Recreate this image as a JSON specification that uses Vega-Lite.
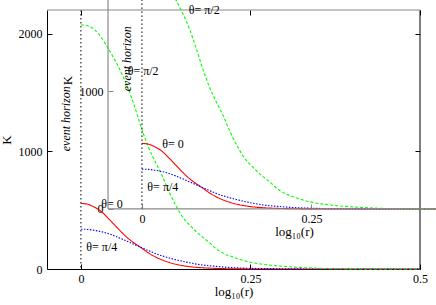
{
  "$schema": "https://vega.github.io/schema/vega-lite/v6.json",
  "width": 373,
  "height": 259,
  "autosize": {"type": "none"},
  "padding": {"left": 47, "top": 10, "right": 16, "bottom": 36},
  "config": {
    "view": {"stroke": null},
    "font": "Liberation Serif",
    "axis": {
      "labelFont": "Liberation Serif",
      "titleFont": "Liberation Serif",
      "labelFontSize": 12,
      "titleFontSize": 13,
      "titleFontWeight": "normal",
      "labelColor": "black",
      "titleColor": "black",
      "tickColor": "black",
      "domainColor": "black",
      "grid": false,
      "tickSize": -5,
      "labelFlush": false,
      "labelOverlap": false
    }
  },
  "datasets": {
    "curves": [
      {"series": "θ= 0", "logr": 0, "K": 557},
      {"series": "θ= 0", "logr": 0.01, "K": 550},
      {"series": "θ= 0", "logr": 0.02, "K": 525},
      {"series": "θ= 0", "logr": 0.03, "K": 488},
      {"series": "θ= 0", "logr": 0.04, "K": 432},
      {"series": "θ= 0", "logr": 0.05, "K": 372},
      {"series": "θ= 0", "logr": 0.06, "K": 312},
      {"series": "θ= 0", "logr": 0.07, "K": 258},
      {"series": "θ= 0", "logr": 0.08, "K": 215},
      {"series": "θ= 0", "logr": 0.09, "K": 176},
      {"series": "θ= 0", "logr": 0.1, "K": 135},
      {"series": "θ= 0", "logr": 0.11, "K": 102},
      {"series": "θ= 0", "logr": 0.12, "K": 76},
      {"series": "θ= 0", "logr": 0.13, "K": 56},
      {"series": "θ= 0", "logr": 0.14, "K": 40},
      {"series": "θ= 0", "logr": 0.15, "K": 29},
      {"series": "θ= 0", "logr": 0.16, "K": 20},
      {"series": "θ= 0", "logr": 0.18, "K": 10},
      {"series": "θ= 0", "logr": 0.2, "K": 5},
      {"series": "θ= 0", "logr": 0.22, "K": 2},
      {"series": "θ= 0", "logr": 0.25, "K": 0.5},
      {"series": "θ= 0", "logr": 0.3, "K": 0},
      {"series": "θ= 0", "logr": 0.5, "K": 0},
      {"series": "θ= π/4", "logr": 0, "K": 338},
      {"series": "θ= π/4", "logr": 0.01, "K": 336},
      {"series": "θ= π/4", "logr": 0.02, "K": 328},
      {"series": "θ= π/4", "logr": 0.03, "K": 317},
      {"series": "θ= π/4", "logr": 0.04, "K": 302},
      {"series": "θ= π/4", "logr": 0.05, "K": 280},
      {"series": "θ= π/4", "logr": 0.06, "K": 256},
      {"series": "θ= π/4", "logr": 0.07, "K": 231},
      {"series": "θ= π/4", "logr": 0.08, "K": 205},
      {"series": "θ= π/4", "logr": 0.09, "K": 180},
      {"series": "θ= π/4", "logr": 0.1, "K": 155},
      {"series": "θ= π/4", "logr": 0.11, "K": 131},
      {"series": "θ= π/4", "logr": 0.12, "K": 111},
      {"series": "θ= π/4", "logr": 0.13, "K": 94},
      {"series": "θ= π/4", "logr": 0.14, "K": 79},
      {"series": "θ= π/4", "logr": 0.16, "K": 53},
      {"series": "θ= π/4", "logr": 0.18, "K": 33},
      {"series": "θ= π/4", "logr": 0.2, "K": 22},
      {"series": "θ= π/4", "logr": 0.22, "K": 13},
      {"series": "θ= π/4", "logr": 0.25, "K": 6},
      {"series": "θ= π/4", "logr": 0.3, "K": 2},
      {"series": "θ= π/4", "logr": 0.35, "K": 0},
      {"series": "θ= π/4", "logr": 0.5, "K": 0},
      {"series": "θ= π/2", "logr": 0, "K": 2075},
      {"series": "θ= π/2", "logr": 0.01, "K": 2066},
      {"series": "θ= π/2", "logr": 0.02, "K": 2032},
      {"series": "θ= π/2", "logr": 0.03, "K": 1968},
      {"series": "θ= π/2", "logr": 0.04, "K": 1875},
      {"series": "θ= π/2", "logr": 0.05, "K": 1775},
      {"series": "θ= π/2", "logr": 0.06, "K": 1662},
      {"series": "θ= π/2", "logr": 0.07, "K": 1530},
      {"series": "θ= π/2", "logr": 0.08, "K": 1365},
      {"series": "θ= π/2", "logr": 0.09, "K": 1185},
      {"series": "θ= π/2", "logr": 0.1, "K": 1030},
      {"series": "θ= π/2", "logr": 0.11, "K": 905},
      {"series": "θ= π/2", "logr": 0.12, "K": 790},
      {"series": "θ= π/2", "logr": 0.13, "K": 655},
      {"series": "θ= π/2", "logr": 0.14, "K": 540},
      {"series": "θ= π/2", "logr": 0.15, "K": 442},
      {"series": "θ= π/2", "logr": 0.16, "K": 375},
      {"series": "θ= π/2", "logr": 0.17, "K": 318},
      {"series": "θ= π/2", "logr": 0.18, "K": 268},
      {"series": "θ= π/2", "logr": 0.19, "K": 222},
      {"series": "θ= π/2", "logr": 0.2, "K": 170},
      {"series": "θ= π/2", "logr": 0.21, "K": 133},
      {"series": "θ= π/2", "logr": 0.22, "K": 110},
      {"series": "θ= π/2", "logr": 0.25, "K": 58},
      {"series": "θ= π/2", "logr": 0.28, "K": 32},
      {"series": "θ= π/2", "logr": 0.3, "K": 22},
      {"series": "θ= π/2", "logr": 0.35, "K": 6},
      {"series": "θ= π/2", "logr": 0.4, "K": 1},
      {"series": "θ= π/2", "logr": 0.45, "K": 0},
      {"series": "θ= π/2", "logr": 0.5, "K": 0}
    ],
    "labels": [
      {"label": "θ= π/2", "logr": 0.069, "K": 1686},
      {"label": "θ= 0", "logr": 0.03, "K": 555},
      {"label": "θ= π/4", "logr": 0.008, "K": 190}
    ],
    "horizon": [
      {"label": "event horizon", "logr": 0, "labelLogr": -0.022, "labelK": 1000}
    ]
  },
  "resolve": {"scale": {"x": "independent", "y": "independent"}},
  "layer": [
    {
      "layer": [
        {
          "data": {"name": "curves"},
          "mark": {"type": "line", "strokeWidth": 1.1, "interpolate": "monotone"},
          "encoding": {
            "x": {"field": "logr", "type": "quantitative",
              "scale": {"domain": [-0.05, 0.5], "nice": false, "zero": false},
              "axis": {"orient": "bottom", "values": [0, 0.25, 0.5], "format": "~g", "labelPadding": 9, "title": "log₁₀(r)", "titlePadding": 1}},
            "y": {"field": "K", "type": "quantitative",
              "scale": {"domain": [0, 2200], "nice": false},
              "axis": {"orient": "left", "values": [0, 1000, 2000], "format": "d", "labelPadding": 10, "title": "K", "titlePadding": 5}},
            "color": {"field": "series", "type": "nominal",
              "scale": {"domain": ["θ= 0", "θ= π/4", "θ= π/2"], "range": ["#ff0000", "#0000ff", "#00ff00"]}, "legend": null},
            "strokeDash": {"field": "series", "type": "nominal",
              "scale": {"domain": ["θ= 0", "θ= π/4", "θ= π/2"], "range": [[1, 0], [1.5, 1.5], [3, 2]]}, "legend": null}
          }
        },
        {
          "data": {"name": "horizon"},
          "mark": {"type": "rule", "color": "black", "strokeWidth": 1, "strokeDash": [1.5, 2.5]},
          "encoding": {"x": {"field": "logr", "type": "quantitative"}}
        },
        {
          "data": {"name": "horizon"},
          "mark": {"type": "text", "angle": 270, "align": "left", "baseline": "middle", "font": "Liberation Serif", "fontStyle": "italic", "fontSize": 12, "color": "black"},
          "encoding": {
            "x": {"field": "labelLogr", "type": "quantitative"},
            "y": {"field": "labelK", "type": "quantitative"},
            "text": {"field": "label"}
          }
        },
        {
          "data": {"name": "labels"},
          "mark": {"type": "text", "align": "left", "baseline": "middle", "font": "Liberation Serif", "fontSize": 12, "color": "black"},
          "encoding": {
            "x": {"field": "logr", "type": "quantitative"},
            "y": {"field": "K", "type": "quantitative"},
            "text": {"field": "label"}
          }
        }
      ]
    },
    {
      "data": {"values": [{}]},
      "layer": [
        {
          "mark": {"type": "rule", "color": "black", "strokeWidth": 1},
          "encoding": {
            "x": {"datum": 0.5, "scale": {"domain": [-0.05, 0.5], "nice": false, "zero": false},
              "axis": {"orient": "top", "values": [0, 0.25, 0.5], "labels": false, "domain": false, "title": null}},
            "y": {"datum": 0, "scale": {"domain": [0, 2200], "nice": false},
              "axis": {"orient": "right", "values": [0, 1000, 2000], "labels": false, "domain": false, "title": null}},
            "y2": {"datum": 2200}
          }
        },
        {
          "mark": {"type": "rule", "color": "#888888", "strokeWidth": 1},
          "encoding": {
            "x": {"datum": -0.05},
            "x2": {"datum": 0.5},
            "y": {"datum": 2200}
          }
        }
      ]
    },
    {
      "layer": [
        {
          "data": {"name": "curves"},
          "mark": {"type": "line", "strokeWidth": 1.1, "interpolate": "monotone"},
          "encoding": {
            "x": {"field": "logr", "type": "quantitative",
              "scale": {"domain": [-0.14, 0.41], "nice": false, "zero": false},
              "axis": {"orient": "bottom", "offset": -60, "values": [0, 0.25, 0.5], "format": "~g", "labelPadding": 9, "domain": false, "tickColor": "#888888", "title": "log₁₀(r)", "titlePadding": 1, "titleX": 247}},
            "y": {"field": "K", "type": "quantitative",
              "scale": {"domain": [-510, 1690], "nice": false, "zero": false},
              "axis": {"orient": "left", "offset": -61, "values": [0, 1000], "format": "d", "labelPadding": 10, "domain": false, "tickColor": "#888888", "title": "K", "titlePadding": 5, "titleY": 70}},
            "color": {"field": "series", "type": "nominal", "legend": null},
            "strokeDash": {"field": "series", "type": "nominal", "legend": null}
          }
        },
        {
          "data": {"name": "horizon"},
          "mark": {"type": "rule", "color": "black", "strokeWidth": 1, "strokeDash": [1.5, 2.5]},
          "encoding": {
            "x": {"field": "logr", "type": "quantitative"},
            "y": {"datum": 0},
            "y2": {"datum": 2200}
          }
        },
        {
          "data": {"values": [{}]},
          "mark": {"type": "rule", "color": "#888888", "strokeWidth": 1.2},
          "encoding": {
            "x": {"datum": -0.05},
            "y": {"datum": 0},
            "y2": {"datum": 2200}
          }
        },
        {
          "data": {"values": [{}]},
          "mark": {"type": "rule", "color": "#888888", "strokeWidth": 1.2},
          "encoding": {
            "x": {"datum": -0.05},
            "x2": {"datum": 0.6},
            "y": {"datum": 0}
          }
        },
        {
          "data": {"name": "horizon"},
          "mark": {"type": "text", "angle": 270, "align": "left", "baseline": "middle", "font": "Liberation Serif", "fontStyle": "italic", "fontSize": 12, "color": "black"},
          "encoding": {
            "x": {"field": "labelLogr", "type": "quantitative"},
            "y": {"field": "labelK", "type": "quantitative"},
            "text": {"field": "label"}
          }
        },
        {
          "data": {"name": "labels"},
          "mark": {"type": "text", "align": "left", "baseline": "middle", "font": "Liberation Serif", "fontSize": 12, "color": "black"},
          "encoding": {
            "x": {"field": "logr", "type": "quantitative"},
            "y": {"field": "K", "type": "quantitative"},
            "text": {"field": "label"}
          }
        }
      ]
    }
  ]
}
